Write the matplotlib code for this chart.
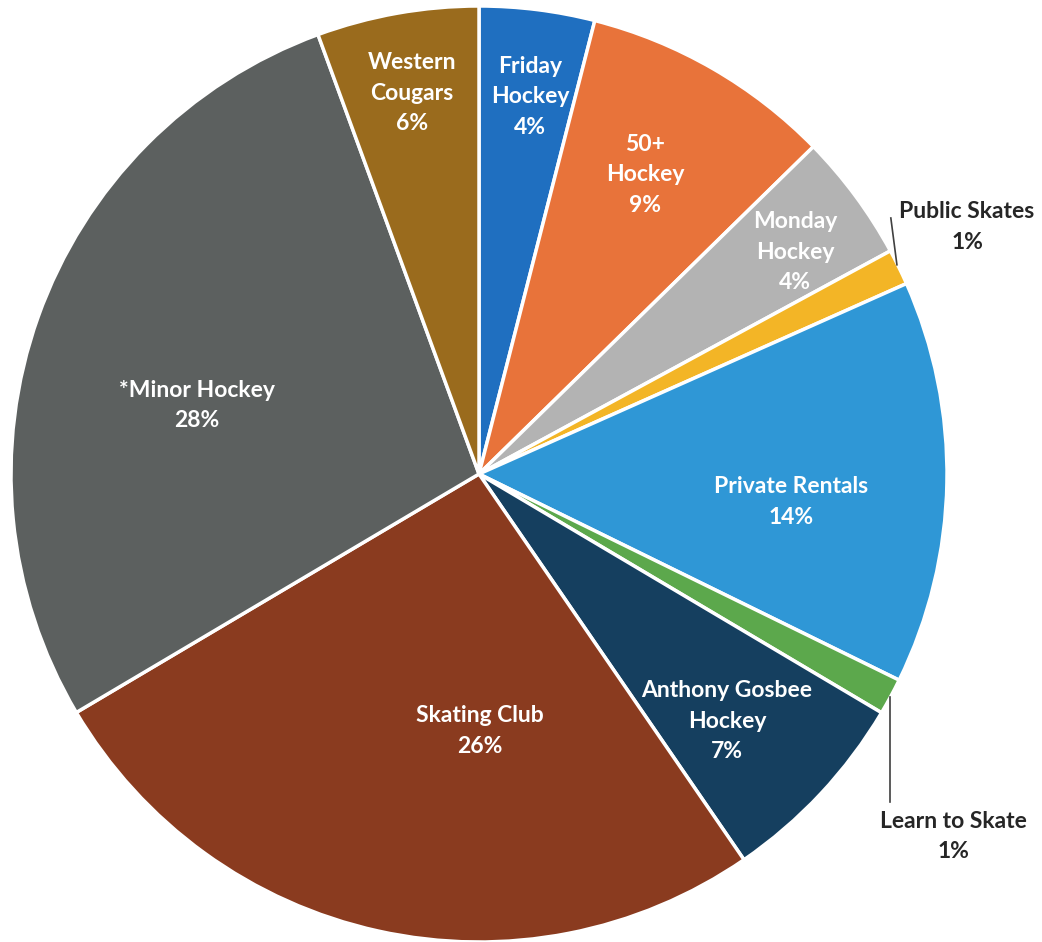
import matplotlib.pyplot as plt

# slices clockwise from 12 o'clock (shares)
labels = ['Friday\nHockey', '50+\nHockey', 'Monday\nHockey', 'Public Skates',
          'Private Rentals', 'Learn to Skate', 'Anthony Gosbee\nHockey',
          'Skating Club', '*Minor Hockey', 'Western\nCougars']
shares = [3.98, 8.69, 4.42, 1.24, 13.93, 1.26, 6.90, 26.07, 27.92, 5.59]
colors = ['#1f6fc0', '#e8733a', '#b3b3b3', '#f3b526', '#2f97d6',
          '#5ca84c', '#153f5f', '#8a3b1f', '#5c605f', '#9a6b1d']

# label centres in units of the pie radius
label_xy = [(0.109, 0.806), (0.355, 0.639), (0.675, 0.474), (1.043, 0.528),
            (0.667, -0.060), (1.013, -0.774), (0.530, -0.528),
            (0.002, -0.549), (-0.603, 0.147), (-0.143, 0.814)]
outside = [False, False, False, True, False, True, False, False, False, False]
# leader lines for the two small slices
leaders = [((0.880, 0.547), (0.893, 0.447)), ((0.878, -0.476), (0.878, -0.701))]

W, H = 1042, 942
cx, cy, R = 479, 474, 468

fig = plt.figure(figsize=(W / 100, H / 100), dpi=100)
ax = fig.add_axes([(cx - R) / W, (H - cy - R) / H, 2 * R / W, 2 * R / H])

ax.pie(shares, colors=colors, startangle=90, counterclock=False, radius=1,
       wedgeprops=dict(edgecolor='white', linewidth=2.5))
ax.set_xlim(-1, 1)
ax.set_ylim(-1, 1)

for lab, v, (x, y), out in zip(labels, shares, label_xy, outside):
    ax.text(x, y, f"{lab}\n{round(v)}%", ha='center', va='center',
            fontsize=16.5, fontweight='bold', family='Lato',
            color='#262626' if out else 'white', linespacing=1.55,
            clip_on=False)

for (x0, y0), (x1, y1) in leaders:
    ax.plot([x0, x1], [y0, y1], color='#404040', lw=1.2, clip_on=False)

fig.savefig('out.png', dpi=100)
